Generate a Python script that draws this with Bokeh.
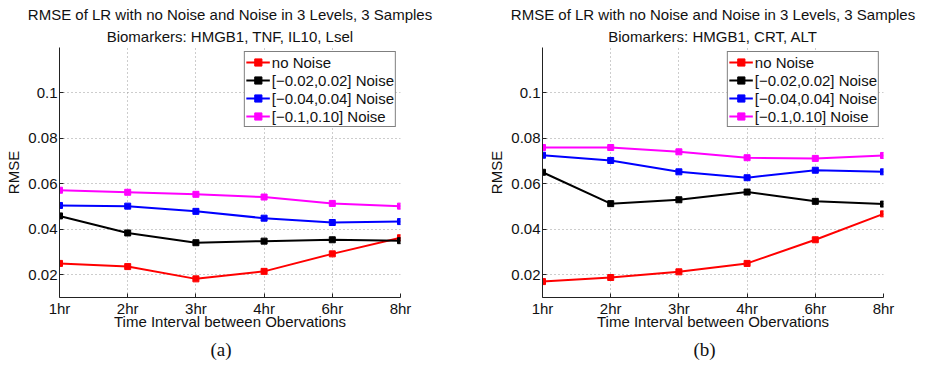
from bokeh.plotting import figure
from bokeh.layouts import row
from bokeh.models import Range1d, FixedTicker, Legend, LegendItem, Title
from bokeh.embed import file_html
from bokeh.resources import INLINE

# ---- data ----
hours = ["1hr", "2hr", "3hr", "4hr", "6hr", "8hr"]
series_labels = ["no Noise", "[\u22120.02,0.02] Noise", "[\u22120.04,0.04] Noise", "[\u22120.1,0.10] Noise"]
series_colors = ["#ff0000", "#000000", "#0000ff", "#ff00ff"]

a_no_noise = [0.0250, 0.0236, 0.0182, 0.0215, 0.0292, 0.0363]
a_noise_002 = [0.0459, 0.0384, 0.0341, 0.0348, 0.0354, 0.0350]
a_noise_004 = [0.0505, 0.0502, 0.0479, 0.0449, 0.0430, 0.0434]
a_noise_010 = [0.0572, 0.0563, 0.0554, 0.0542, 0.0514, 0.0502]

b_no_noise = [0.0170, 0.0188, 0.0213, 0.0250, 0.0354, 0.0468]
b_noise_002 = [0.0651, 0.0513, 0.0530, 0.0564, 0.0523, 0.0511]
b_noise_004 = [0.0726, 0.0703, 0.0653, 0.0627, 0.0660, 0.0653]
b_noise_010 = [0.0760, 0.0760, 0.0741, 0.0715, 0.0712, 0.0725]

y_ticks = [0.02, 0.04, 0.06, 0.08, 0.1]
y_tick_labels = ["0.02", "0.04", "0.06", "0.08", "0.1"]

title_line1 = "RMSE of LR with no Noise and Noise in 3 Levels, 3 Samples"
a_title_line2 = "Biomarkers: HMGB1, TNF, IL10, Lsel"
b_title_line2 = "Biomarkers: HMGB1, CRT, ALT"
x_label = "Time Interval between Obervations"
y_label = "RMSE"

FONT = "Liberation Sans"
SERIF = "Liberation Serif"
FS = "15px"

x_pos = list(range(1, len(hours) + 1))


def make_panel(line2, data, caption, width, left_border, right_border):
    p = figure(width=width, height=373, output_backend="svg", toolbar_location=None,
               x_range=Range1d(1, 6), y_range=Range1d(0.01, 0.12),
               min_border_left=left_border, min_border_right=right_border,
               min_border_top=47, min_border_bottom=76)
    p.outline_line_color = None
    p.background_fill_color = "white"
    p.border_fill_color = "white"

    renderers = []
    for ys, c in zip(data, series_colors):
        l = p.line(x_pos, ys, line_color=c, line_width=2)
        s = p.scatter(x_pos, ys, marker="square", size=6, fill_color=c, line_color=c)
        renderers.append([l, s])

    legend = Legend(items=[LegendItem(label=lab, renderers=r) for lab, r in zip(series_labels, renderers)],
                    location="top_right")
    legend.label_text_font = FONT
    legend.label_text_font_size = FS
    legend.label_text_color = "#111111"
    legend.glyph_width = 24
    legend.glyph_height = 18
    legend.label_height = 18
    legend.label_standoff = 2
    legend.spacing = 0
    legend.padding = 1
    legend.margin = 4
    legend.border_line_color = "black"
    legend.border_line_width = 1
    legend.background_fill_alpha = 1
    p.add_layout(legend)

    p.xaxis.ticker = FixedTicker(ticks=x_pos)
    p.xaxis.major_label_overrides = {x: h for x, h in zip(x_pos, hours)}
    p.yaxis.ticker = FixedTicker(ticks=y_ticks)
    p.yaxis.major_label_overrides = {t: s for t, s in zip(y_ticks, y_tick_labels)}
    p.xgrid.ticker = FixedTicker(ticks=x_pos)
    p.ygrid.ticker = FixedTicker(ticks=y_ticks)
    for g in (p.xgrid, p.ygrid):
        g.grid_line_color = "#9a9a9a"
        g.grid_line_dash = "1 3"
        g.grid_line_width = 1

    for ax in (p.xaxis, p.yaxis):
        ax.axis_line_color = "#222222"
        ax.major_tick_line_color = "#222222"
        ax.major_tick_in = 4
        ax.major_tick_out = 0
        ax.minor_tick_line_color = None
        ax.major_label_text_font = FONT
        ax.major_label_text_font_size = FS
        ax.major_label_text_color = "#111111"
        ax.axis_label_text_font = FONT
        ax.axis_label_text_font_size = FS
        ax.axis_label_text_font_style = "normal"
        ax.axis_label_text_color = "#111111"
    p.xaxis.axis_label = x_label
    p.yaxis.axis_label = y_label
    p.xaxis.major_label_standoff = 2
    p.xaxis.axis_label_standoff = -7
    p.yaxis.major_label_standoff = 2
    p.yaxis.axis_label_standoff = 3

    # two-line title above the frame (inner line first)
    p.add_layout(Title(text=line2, align="center", text_font=FONT, text_font_size=FS,
                       text_font_style="normal", text_color="#111111", standoff=6), "above")
    p.add_layout(Title(text=title_line1, align="center", text_font=FONT, text_font_size=FS,
                       text_font_style="normal", text_color="#111111", standoff=0), "above")
    # caption below
    p.add_layout(Title(text=caption, align="left", offset=151, text_font=SERIF, text_font_size="19px",
                       text_font_style="normal", text_color="#111111", standoff=8), "below")
    return p


p1 = make_panel(a_title_line2, [a_no_noise, a_noise_002, a_noise_004, a_noise_010], "(a)", 468, 59, 68)
p2 = make_panel(b_title_line2, [b_no_noise, b_noise_002, b_noise_004, b_noise_010], "(b)", 457, 74, 42)

layout = row(p1, p2)
open("out.html", "w").write(file_html(layout, INLINE))
